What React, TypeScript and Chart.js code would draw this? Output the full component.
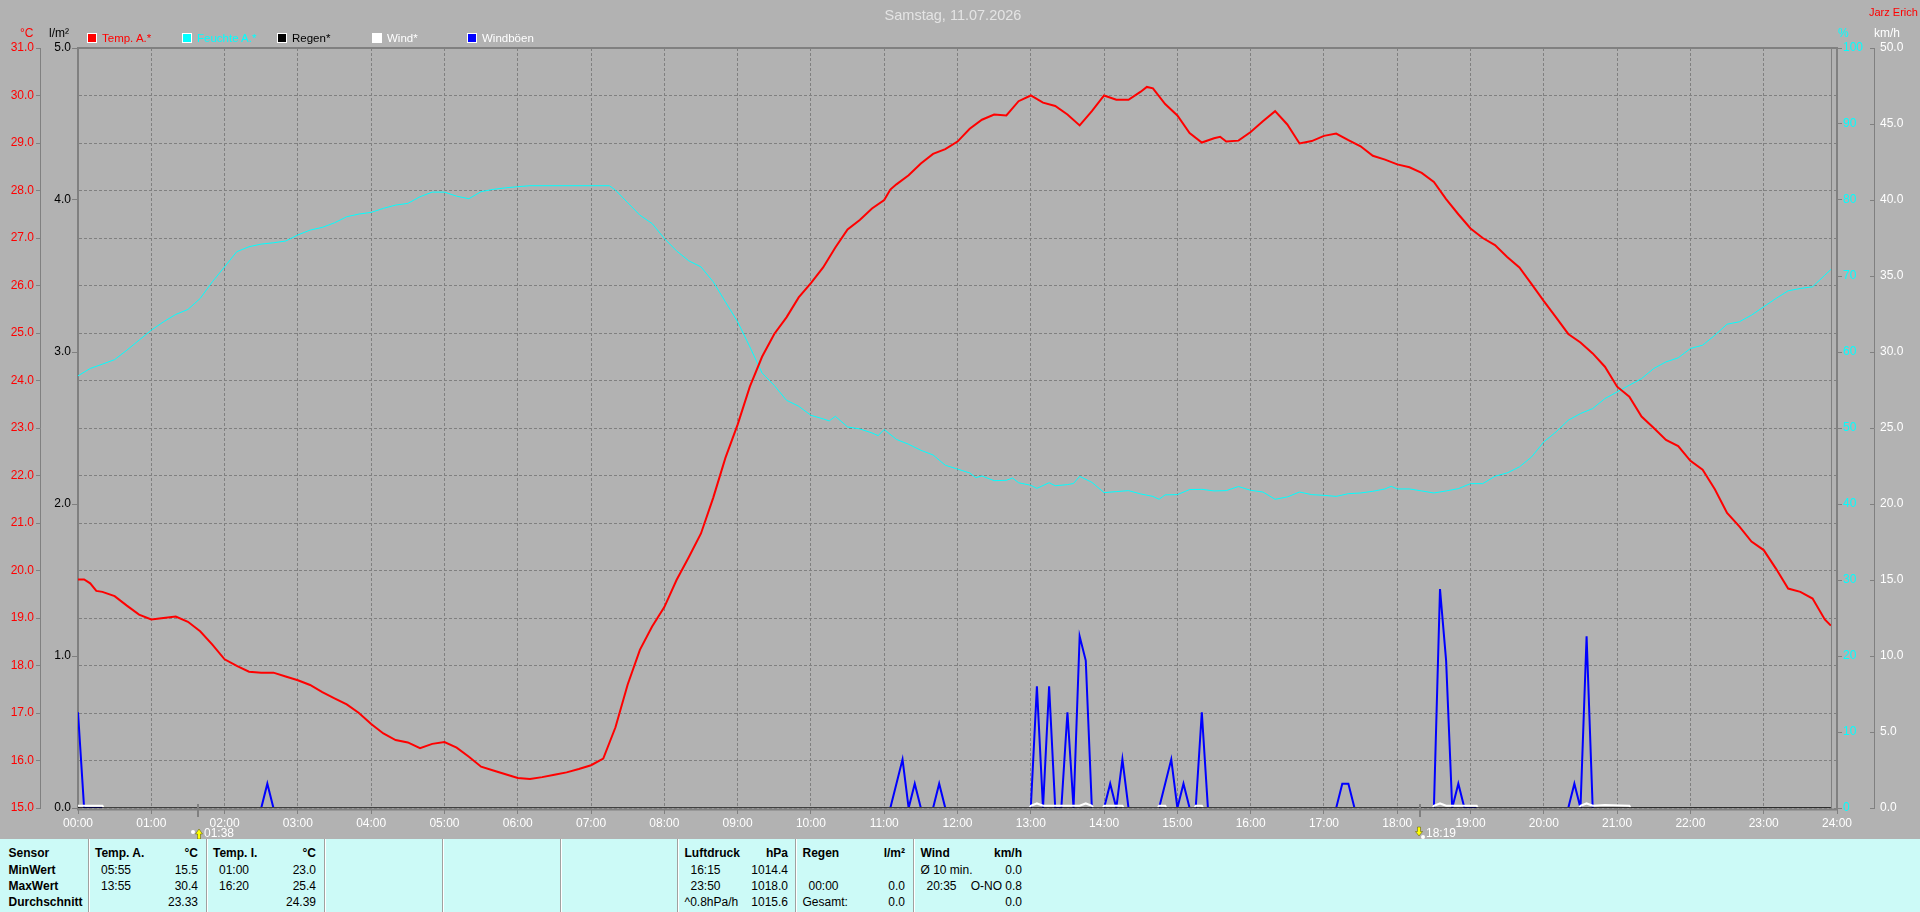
import { useEffect, useRef } from 'react';
import { Chart, registerables, type Plugin } from 'chart.js';

Chart.register(...registerables);

/* ─── Data ───────────────────────────────────────────────────────────────── */

const TEMP_TIMES = [
  '00:00', '00:05', '00:10', '00:15', '00:20', '00:30', '00:40', '00:50', '01:00', '01:10', '01:20', '01:30', '01:40', '01:50',
  '02:00', '02:10', '02:20', '02:30', '02:40', '02:50', '03:00', '03:10', '03:20', '03:30', '03:40', '03:50',
  '04:00', '04:10', '04:20', '04:30', '04:40', '04:50', '05:00', '05:10', '05:20', '05:30', '05:40', '05:50',
  '06:00', '06:10', '06:20', '06:30', '06:40', '06:50', '07:00', '07:10', '07:20', '07:30', '07:40', '07:50',
  '08:00', '08:10', '08:20', '08:30', '08:40', '08:50', '09:00', '09:10', '09:20', '09:30', '09:40', '09:50',
  '10:00', '10:10', '10:20', '10:30', '10:40', '10:50', '11:00', '11:05', '11:10', '11:20', '11:30', '11:40', '11:50',
  '12:00', '12:10', '12:20', '12:30', '12:40', '12:50', '13:00', '13:10', '13:20', '13:30', '13:40', '13:50',
  '14:00', '14:10', '14:20', '14:30', '14:35', '14:40', '14:50', '15:00', '15:10', '15:20', '15:30', '15:35', '15:40', '15:50',
  '16:00', '16:10', '16:20', '16:30', '16:40', '16:50', '17:00', '17:10', '17:20', '17:30', '17:40', '17:50',
  '18:00', '18:10', '18:20', '18:30', '18:40', '18:50', '19:00', '19:10', '19:20', '19:30', '19:40', '19:50',
  '20:00', '20:10', '20:20', '20:30', '20:40', '20:50', '21:00', '21:10', '21:20', '21:30', '21:40', '21:50',
  '22:00', '22:10', '22:20', '22:30', '22:40', '22:50', '23:00', '23:10', '23:20', '23:30', '23:40', '23:50', '23:55',
];
const TEMP_VALUES = [
  19.81, 19.81, 19.73, 19.57, 19.55, 19.46, 19.26, 19.07, 18.97, 19.0, 19.03, 18.92, 18.72, 18.44,
  18.13, 17.99, 17.87, 17.85, 17.85, 17.77, 17.69, 17.59, 17.44, 17.31, 17.18, 17.0,
  16.77, 16.57, 16.43, 16.38, 16.26, 16.35, 16.39, 16.27, 16.08, 15.87, 15.79, 15.71,
  15.63, 15.61, 15.65, 15.7, 15.75, 15.82, 15.9, 16.04, 16.7, 17.6, 18.33, 18.82,
  19.23, 19.8, 20.28, 20.78, 21.53, 22.37, 23.07, 23.87, 24.5, 24.98, 25.33, 25.75,
  26.05, 26.38, 26.8, 27.18, 27.38, 27.62, 27.8, 28.02, 28.13, 28.32, 28.57, 28.77, 28.87,
  29.03, 29.3, 29.49, 29.6, 29.58, 29.88, 30.0, 29.85, 29.78, 29.6, 29.37, 29.67,
  30.0, 29.91, 29.91, 30.08, 30.18, 30.15, 29.82, 29.58, 29.21, 29.01, 29.1, 29.13, 29.03, 29.05,
  29.23, 29.46, 29.67, 29.39, 28.99, 29.04, 29.15, 29.2, 29.06, 28.93, 28.73, 28.65,
  28.55, 28.49, 28.37, 28.18, 27.82, 27.5, 27.2, 27.0, 26.85, 26.6, 26.38, 26.03,
  25.67, 25.33, 24.98, 24.8, 24.57, 24.29, 23.87, 23.66, 23.24, 23.0, 22.75, 22.62,
  22.31, 22.12, 21.71, 21.21, 20.93, 20.61, 20.43, 20.04, 19.62, 19.55, 19.41, 18.97, 18.84,
];

const HUM_TIMES = [
  '00:00', '00:10', '00:20', '00:30', '00:40', '00:50', '01:00', '01:10', '01:20', '01:30', '01:40', '01:50',
  '02:00', '02:10', '02:20', '02:30', '02:40', '02:50', '03:00', '03:10', '03:20', '03:30', '03:40', '03:50',
  '04:00', '04:10', '04:20', '04:30', '04:40', '04:50', '05:00', '05:10', '05:20', '05:30', '05:40', '05:50',
  '06:00', '06:10', '07:15', '07:20', '07:30', '07:40', '07:50',
  '08:00', '08:10', '08:20', '08:30', '08:40', '08:50', '09:00', '09:10', '09:20', '09:30', '09:40', '09:50',
  '10:00', '10:10', '10:15', '10:20', '10:30', '10:40', '10:50', '10:55', '11:00', '11:10', '11:20', '11:30', '11:40', '11:50',
  '12:00', '12:10', '12:15', '12:20', '12:30', '12:40', '12:45', '12:50', '13:00', '13:05', '13:15', '13:20', '13:30', '13:35', '13:40', '13:50',
  '14:00', '14:10', '14:20', '14:30', '14:40', '14:45', '14:50', '15:00', '15:10', '15:20', '15:30', '15:40', '15:50',
  '16:00', '16:10', '16:20', '16:30', '16:40', '16:50', '17:00', '17:10', '17:20', '17:30', '17:40', '17:50', '17:55',
  '18:00', '18:10', '18:20', '18:30', '18:40', '18:50', '19:00', '19:10', '19:20', '19:30', '19:40', '19:50',
  '20:00', '20:10', '20:20', '20:30', '20:40', '20:50', '21:00', '21:10', '21:20', '21:30', '21:40', '21:50',
  '22:00', '22:10', '22:20', '22:30', '22:40', '22:50', '23:00', '23:10', '23:20', '23:30', '23:40', '23:50', '23:55',
];
const HUM_VALUES = [
  56.86, 57.83, 58.4, 59.0, 60.24, 61.56, 62.87, 63.97, 64.94, 65.6, 67.04, 69.24,
  71.2, 73.2, 73.85, 74.2, 74.37, 74.6, 75.4, 76.04, 76.4, 77.0, 77.8, 78.15,
  78.37, 78.9, 79.33, 79.55, 80.43, 81.04, 81.04, 80.5, 80.17, 81.1, 81.4, 81.6,
  81.75, 81.88, 81.88, 81.3, 79.64, 78.0, 76.9,
  74.94, 73.3, 72.0, 71.2, 69.24, 66.6, 63.97, 60.68, 57.25, 55.6, 53.65, 52.86,
  51.67, 51.2, 50.93, 51.54, 50.14, 49.88, 49.35, 49.0, 49.8, 48.5, 47.86, 47.07, 46.45, 45.1,
  44.6, 44.08, 43.47, 43.69, 43.07, 43.12, 43.42, 42.8, 42.46, 42.06, 42.8, 42.4, 42.55, 42.7, 43.64, 42.85,
  41.5, 41.63, 41.76, 41.32, 41.0, 40.62, 41.2, 41.23, 41.9, 41.93, 41.72, 41.76, 42.3,
  41.8, 41.58, 40.62, 40.93, 41.58, 41.23, 41.14, 41.0, 41.36, 41.45, 41.67, 41.98, 42.33,
  41.98, 41.98, 41.72, 41.45, 41.72, 42.02, 42.68, 42.68, 43.65, 44.09, 44.88, 46.2,
  48.17, 49.49, 51.02, 51.9, 52.56, 53.87, 54.75, 55.63, 56.5, 57.83, 58.7, 59.23,
  60.46, 60.9, 62.2, 63.66, 63.97, 64.85, 65.95, 67.04, 68.05, 68.36, 68.58, 70.1, 70.86,
];

const RAIN_TIMES = ['00:00', '23:55'];
const RAIN_VALUES = [0, 0];

const WIND_TIMES = [
  '00:00', '00:20', '00:21', '12:59', '13:00', '13:05', '13:10', '13:15', '13:40', '13:45', '13:50', '13:51',
  '13:59', '14:00', '14:15', '14:16', '14:44', '14:45', '14:50', '14:51', '15:14', '15:15', '15:20', '15:21',
  '18:29', '18:30', '18:35', '18:40', '19:05', '19:06', '20:29', '20:30', '20:35', '20:40', '20:50', '21:10', '21:11',
];
const WIND_VALUES = [
  0.15, 0.15, 0, 0, 0.15, 0.3, 0.15, 0.15, 0.15, 0.3, 0.15, 0,
  0, 0.15, 0.15, 0, 0, 0.15, 0.15, 0, 0, 0.15, 0.15, 0,
  0, 0.15, 0.3, 0.15, 0.15, 0, 0, 0.15, 0.3, 0.15, 0.2, 0.15, 0,
];

const GUST_TIMES = [
  '00:00', '00:05', '02:30', '02:35', '02:40', '11:05', '11:10', '11:15', '11:20', '11:25', '11:30', '11:40', '11:45', '11:50',
  '13:00', '13:05', '13:10', '13:15', '13:20', '13:25', '13:30', '13:35', '13:40', '13:45', '13:50',
  '14:00', '14:05', '14:10', '14:15', '14:20', '14:45', '14:50', '14:55', '15:00', '15:05', '15:10', '15:15', '15:20', '15:25',
  '17:10', '17:15', '17:20', '17:25', '18:30', '18:35', '18:40', '18:45', '18:50', '18:55',
  '20:20', '20:25', '20:30', '20:35', '20:40',
];
const GUST_VALUES = [
  6.3, 0, 0, 1.6, 0, 0, 1.6, 3.2, 0, 1.6, 0, 0, 1.6, 0,
  0, 8.0, 0, 8.0, 0, 0, 6.3, 0, 11.3, 9.7, 0,
  0, 1.6, 0, 3.2, 0, 0, 1.6, 3.2, 0, 1.6, 0, 0, 6.3, 0,
  0, 1.6, 1.6, 0, 0, 14.4, 9.7, 0, 1.6, 0,
  0, 1.6, 0, 11.3, 0,
];

const LAST_SAMPLE = '23:55';
const SUN_EVENTS = [
  { time: '01:38', rising: true },
  { time: '18:19', rising: false },
];

const LEGEND_ITEMS = [
  { label: 'Temp. A.*', colour: '#ff0000' },
  { label: 'Feuchte A.*', colour: '#00ffff' },
  { label: 'Regen*', colour: '#000000' },
  { label: 'Wind*', colour: '#ffffff' },
  { label: 'Windböen', colour: '#ffffff', box: '#0000ff' },
];

// Stats panel: one block per sensor, rows are min, max, average
const PANEL_COLUMNS = [
  { left: 95, right: 198, head: 'Temp. A.', unit: '°C', rows: [['05:55', '15.5'], ['13:55', '30.4'], ['', '23.33']] },
  { left: 213, right: 316, head: 'Temp. I.', unit: '°C', rows: [['01:00', '23.0'], ['16:20', '25.4'], ['', '24.39']] },
  { left: 684.5, right: 788, head: 'Luftdruck', unit: 'hPa', rows: [['16:15', '1014.4'], ['23:50', '1018.0'], ['^0.8hPa/h', '1015.6']] },
  { left: 802.5, right: 905, head: 'Regen', unit: 'l/m²', rows: [['', ''], ['00:00', '0.0'], ['Gesamt:', '0.0']] },
  { left: 920.5, right: 1022, head: 'Wind', unit: 'km/h', rows: [['Ø 10 min.', '0.0'], ['20:35', 'O-NO 0.8'], ['', '0.0']] },
];
const SENSOR_LABELS = ['Sensor', 'MinWert', 'MaxWert', 'Durchschnitt'];
const PANEL_DIVIDERS = [88, 206, 324, 442, 560, 677, 795, 913];
const PANEL_ROWS_Y = [853, 870, 886, 902];

/* ─── Helpers ────────────────────────────────────────────────────────────── */

const GRID = '#808080';
const GRID_DASH = [3, 2];
const FONT = "'Liberation Sans', Arial, sans-serif";

const toHours = (t: string) => {
  const [h, m] = t.split(':').map(Number);
  return h + m / 60;
};
const series = (times: string[], values: number[]) =>
  times.map((t, i) => ({ x: toHours(t), y: values[i] }));

const fixedWidth = (w: number) => (scale: any) => { scale.width = w; };

/* ─── Frame, wind ticks and sun markers ──────────────────────────────────── */

const framePlugin: Plugin = {
  id: 'frame',
  afterDatasetsDraw(chart) {
    const { ctx, chartArea: a, scales } = chart;
    ctx.save();
    ctx.strokeStyle = GRID;

    ctx.lineWidth = 2;
    ctx.beginPath();
    ctx.moveTo(a.left - 1, a.top);
    ctx.lineTo(a.right + 1, a.top);
    ctx.moveTo(a.left - 1, a.bottom + 1.5);
    ctx.lineTo(a.right + 1, a.bottom + 1.5);
    ctx.stroke();

    const lastX = Math.round(scales.x.getPixelForValue(toHours(LAST_SAMPLE))) + 0.5;
    ctx.lineWidth = 1;
    ctx.beginPath();
    ctx.moveTo(lastX, a.top);
    ctx.lineTo(lastX, a.bottom);
    ctx.stroke();

    // km/h axis has its tick marks on the inner side of the line
    const wind = scales.wind;
    ctx.beginPath();
    wind.ticks.forEach((_t, i) => {
      const y = Math.round(wind.getPixelForTick(i)) + 0.5;
      ctx.moveTo(wind.left - 4, y);
      ctx.lineTo(wind.left, y);
    });
    ctx.stroke();

    ctx.font = `12px ${FONT}`;
    ctx.textBaseline = 'middle';
    ctx.textAlign = 'left';
    for (const ev of SUN_EVENTS) {
      const x = Math.round(scales.x.getPixelForValue(toHours(ev.time)));
      ctx.strokeStyle = GRID;
      ctx.lineWidth = 2;
      ctx.beginPath();
      ctx.moveTo(x, 804);
      ctx.lineTo(x, 817);
      ctx.stroke();

      // small yellow arrow with the white sun next to it
      const tip = ev.rising ? 829 : 836;
      const base = ev.rising ? 839 : 827;
      const mid = tip + (base - tip) * 0.5;
      const ax = ev.rising ? x + 1 : x - 1;
      ctx.fillStyle = '#ffff00';
      ctx.strokeStyle = '#505000';
      ctx.lineWidth = 0.5;
      ctx.beginPath();
      ctx.moveTo(ax, tip);
      ctx.lineTo(ax + 3.5, mid);
      ctx.lineTo(ax + 1.5, mid);
      ctx.lineTo(ax + 1.5, base);
      ctx.lineTo(ax - 1.5, base);
      ctx.lineTo(ax - 1.5, mid);
      ctx.lineTo(ax - 3.5, mid);
      ctx.closePath();
      ctx.fill();
      ctx.stroke();

      ctx.fillStyle = '#ffffff';
      ctx.beginPath();
      ctx.arc(ev.rising ? x - 5 : x + 3, ev.rising ? 832 : 837, 2, 0, Math.PI * 2);
      ctx.fill();

      ctx.fillText(ev.time, x + 6, 833.5);
    }
    ctx.restore();
  },
};

/* ─── Component ──────────────────────────────────────────────────────────── */

const label = (
  text: string,
  left: number,
  y: number,
  colour: string,
  extra: React.CSSProperties = {},
) => (
  <div
    key={`${text}-${left}-${y}`}
    style={{
      position: 'absolute', left, top: y - 8, height: 16, lineHeight: '16px',
      fontSize: 12, color: colour, whiteSpace: 'pre', ...extra,
    }}
  >
    {text}
  </div>
);

const rightLabel = (text: string, right: number, y: number, colour: string, bold = false) => (
  <div
    key={`${text}-${right}-${y}`}
    style={{
      position: 'absolute', right: 1920 - right, top: y - 8, height: 16, lineHeight: '16px',
      fontSize: 12, color: colour, whiteSpace: 'pre', fontWeight: bold ? 700 : 400,
    }}
  >
    {text}
  </div>
);

export default function App() {
  const canvasRef = useRef<HTMLCanvasElement>(null);

  useEffect(() => {
    document.body.style.margin = '0';
    if (!canvasRef.current) return;

    Chart.defaults.font.family = FONT;
    Chart.defaults.font.size = 12;

    const chart = new Chart(canvasRef.current, {
      type: 'line',
      data: {
        datasets: [
          { label: 'Regen*', data: series(RAIN_TIMES, RAIN_VALUES), yAxisID: 'rain', borderColor: '#000000', borderWidth: 1.5 },
          { label: 'Temp. A.*', data: series(TEMP_TIMES, TEMP_VALUES), yAxisID: 'temp', borderColor: '#ff0000', borderWidth: 2 },
          { label: 'Feuchte A.*', data: series(HUM_TIMES, HUM_VALUES), yAxisID: 'hum', borderColor: '#00ffff', borderWidth: 1 },
          { label: 'Wind*', data: series(WIND_TIMES, WIND_VALUES), yAxisID: 'wind', borderColor: '#ffffff', borderWidth: 2 },
          { label: 'Windböen', data: series(GUST_TIMES, GUST_VALUES), yAxisID: 'wind', borderColor: '#0000ff', borderWidth: 2 },
        ],
      },
      options: {
        animation: false,
        responsive: false,
        parsing: false,
        elements: { point: { radius: 0 }, line: { tension: 0 } },
        layout: { padding: { top: 48, left: 0, right: 0, bottom: 0 } },
        plugins: { legend: { display: false }, tooltip: { enabled: false }, title: { display: false } },
        scales: {
          x: {
            type: 'linear',
            min: 0,
            max: 24,
            afterFit: (s: any) => { s.height = 31; },
            border: { display: false, dash: GRID_DASH },
            grid: { color: GRID, tickColor: GRID, tickLength: 6, tickBorderDash: [] },
            ticks: {
              stepSize: 1,
              autoSkip: false,
              maxRotation: 0,
              padding: 2,
              color: '#ffffff',
              callback: (v) => `${String(v).padStart(2, '0')}:00`,
            },
          },
          temp: {
            position: 'left',
            weight: 1,
            min: 15,
            max: 31,
            afterFit: fixedWidth(40),
            border: { color: GRID, width: 1, dash: GRID_DASH },
            grid: { color: GRID, tickColor: GRID, tickLength: 4, tickBorderDash: [] },
            ticks: { stepSize: 1, padding: 2, color: '#ff0000', callback: (v) => Number(v).toFixed(1) },
          },
          rain: {
            position: 'left',
            weight: 0,
            min: 0,
            max: 5,
            afterFit: fixedWidth(38),
            border: { color: GRID, width: 2 },
            grid: { drawOnChartArea: false, tickColor: GRID, tickLength: 6 },
            ticks: { stepSize: 1, padding: 1, color: '#000000', callback: (v) => Number(v).toFixed(1) },
          },
          hum: {
            position: 'right',
            weight: 0,
            min: 0,
            max: 100,
            afterFit: fixedWidth(37),
            border: { color: GRID, width: 2 },
            grid: { drawOnChartArea: false, tickColor: GRID, tickLength: 5 },
            ticks: { stepSize: 10, padding: 1, color: '#00ffff' },
          },
          wind: {
            position: 'right',
            weight: 1,
            min: 0,
            max: 50,
            afterFit: fixedWidth(46),
            border: { color: GRID, width: 1 },
            grid: { drawOnChartArea: false, drawTicks: false },
            ticks: { stepSize: 5, padding: 6, color: '#ffffff', callback: (v) => Number(v).toFixed(1) },
          },
        },
      },
      plugins: [framePlugin],
    });

    return () => chart.destroy();
  }, []);

  return (
    <div style={{ position: 'relative', width: 1920, height: 912, overflow: 'hidden', background: '#b2b2b2', fontFamily: FONT }}>
      <canvas ref={canvasRef} width={1920} height={839} style={{ position: 'absolute', left: 0, top: 0 }} />

      {/* Title and axis units */}
      <div style={{ position: 'absolute', left: 0, width: 1906, top: 5, textAlign: 'center', fontSize: 14.5, lineHeight: '20px', color: '#e4e4e4' }}>
        Samstag, 11.07.2026
      </div>
      {label('Jarz Erich', 1869, 12, '#ff0000', { fontSize: 11 })}
      {label('°C', 20, 33, '#ff0000')}
      {label('l/m²', 49, 33, '#000000')}
      {label('%', 1838, 33, '#00ffff')}
      {label('km/h', 1874, 33, '#ffffff')}

      {/* Legend */}
      {LEGEND_ITEMS.map((item, i) => (
        <div key={item.label}>
          <div style={{ position: 'absolute', left: 87 + i * 95, top: 33, width: 8, height: 8, background: item.box ?? item.colour, border: '1px solid #ffffff' }} />
          {label(item.label, 102 + i * 95, 38, item.colour, { fontSize: 11.5 })}
        </div>
      ))}

      {/* Stats panel */}
      <div style={{ position: 'absolute', left: 0, top: 839, width: 1920, height: 73, background: '#ccfaf7' }} />
      {PANEL_DIVIDERS.map((x) => (
        <div key={x} style={{ position: 'absolute', left: x, top: 839, width: 1, height: 73, background: '#a0a0a0', borderRight: '1px solid #ffffff' }} />
      ))}
      {SENSOR_LABELS.map((s, i) => label(s, 8.5, PANEL_ROWS_Y[i], '#000000', { fontWeight: 700 }))}
      {PANEL_COLUMNS.map((col) => (
        <div key={col.head}>
          {label(col.head, col.left, PANEL_ROWS_Y[0], '#000000', { fontWeight: 700 })}
          {rightLabel(col.unit, col.right, PANEL_ROWS_Y[0], '#000000', true)}
          {col.rows.map(([name, value], r) => (
            <div key={r}>
              {name && label(name, /:\d\d$/.test(name) && name.length === 5 ? col.left + 6 : col.left, PANEL_ROWS_Y[r + 1], '#000000')}
              {value && rightLabel(value, col.right, PANEL_ROWS_Y[r + 1], '#000000')}
            </div>
          ))}
        </div>
      ))}
    </div>
  );
}
